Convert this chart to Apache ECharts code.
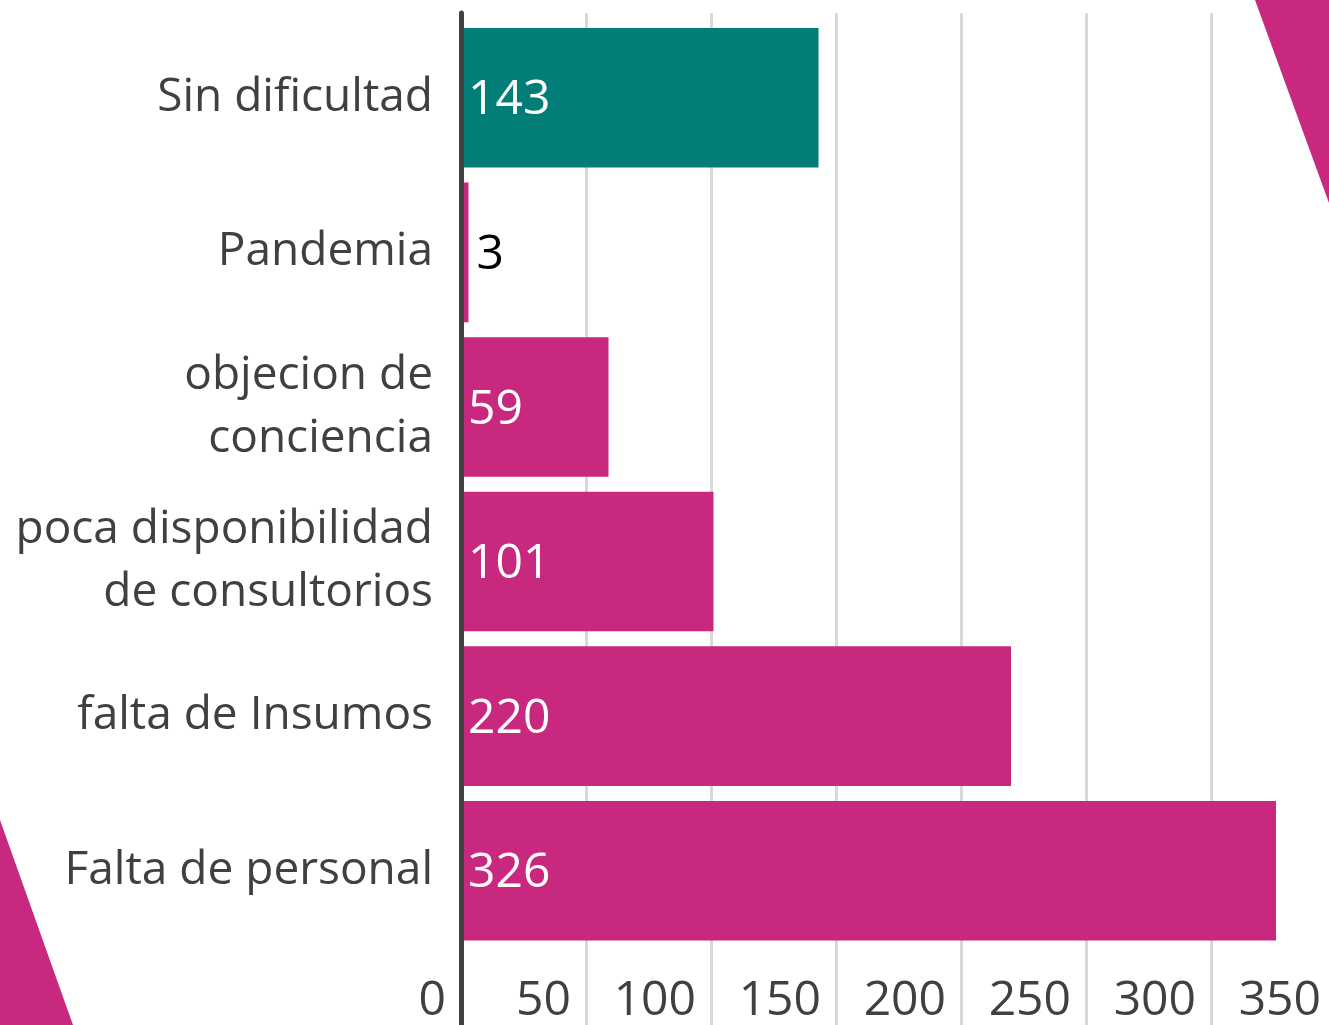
<!DOCTYPE html>
<html>
<head>
<meta charset="utf-8">
<script src="https://cdn.jsdelivr.net/npm/echarts@6/dist/echarts.min.js"></script>
<style>
  html, body { margin: 0; padding: 0; background: #fff; overflow: hidden; }
  /* un poco mas ancho que la ventana: la linea de 350 queda fuera, como en el original */
  #chart { width: 1340px; height: 1025px; }
</style>
</head>
<body>
<div id="chart"></div>
<script>
// categorias (de arriba hacia abajo)
var categories = [
  'Sin dificultad',
  'Pandemia',
  'objecion de\nconciencia',
  'poca disponibilidad\nde consultorios',
  'falta de Insumos',
  'Falta de personal'
]
// cantidad de respuestas
var values = [143, 3, 59, 101, 220, 326]
// ticks del eje x
var xTicks = [0, 50, 100, 150, 200, 250, 300, 350]

var TEAL = '#027d78'
var PINK = '#c8287e'
var TEXT = '#404040'
var FONT = 'Open Sans'

var chart = echarts.init(document.getElementById('chart'))

var barData = values.map(function (v, i) {
  var small = v < 10
  return {
    value: v,
    itemStyle: { color: i === 0 ? TEAL : PINK },
    label: {
      position: small ? 'right' : 'insideLeft',
      color: small ? '#000' : '#fff',
      distance: small ? 8 : 7
    }
  }
})

var option = {
  animation: false,
  backgroundColor: '#fff',
  textStyle: { fontFamily: FONT },
  grid: [
    // barras
    { left: 461, width: 875, top: 20.5, height: 930 },
    // lineas de fondo y eje
    { left: 461, width: 875, top: 13, bottom: 0 }
  ],
  xAxis: [
    {
      gridIndex: 0,
      type: 'value',
      min: xTicks[0],
      max: xTicks[xTicks.length - 1],
      interval: 50,
      splitLine: { show: false },
      axisLine: { show: false },
      axisTick: { show: false },
      axisLabel: {
        fontSize: 48,
        color: TEXT,
        fontFamily: FONT,
        align: 'right',
        padding: [0, 15, 0, 0],
        margin: 29
      }
    },
    {
      gridIndex: 1,
      type: 'value',
      min: xTicks[0],
      max: xTicks[xTicks.length - 1],
      interval: 50,
      splitLine: { show: true, lineStyle: { color: '#d9d9d9', width: 3 } },
      axisLine: { show: false },
      axisTick: { show: false },
      axisLabel: { show: false }
    }
  ],
  yAxis: [
    {
      gridIndex: 0,
      type: 'category',
      inverse: true,
      data: categories,
      axisLine: { show: false },
      axisTick: { show: false },
      axisLabel: {
        fontSize: 46,
        lineHeight: 63,
        color: TEXT,
        fontFamily: FONT,
        margin: 28,
        align: 'right',
        padding: [9, 0, 0, 0]
      }
    },
    {
      gridIndex: 1,
      type: 'value',
      min: 0,
      max: 1,
      splitLine: { show: false },
      axisTick: { show: false },
      axisLabel: { show: false },
      axisLine: { show: true, lineStyle: { color: '#404040', width: 5 } },
      z: 5
    }
  ],
  series: [
    {
      type: 'bar',
      xAxisIndex: 0,
      yAxisIndex: 0,
      data: barData,
      barCategoryGap: '9.7%',
      z: 3,
      label: {
        show: true,
        fontSize: 48,
        fontFamily: FONT,
        offset: [0, 3]
      }
    }
  ],
  graphic: [
    {
      type: 'polygon',
      shape: { points: [[1255, 0], [1329, 0], [1329, 203]] },
      style: { fill: PINK },
      z: 10
    },
    {
      type: 'polygon',
      shape: { points: [[0, 820], [73, 1025], [0, 1025]] },
      style: { fill: PINK },
      z: 10
    }
  ]
}

chart.setOption(option)
</script>
</body>
</html>
